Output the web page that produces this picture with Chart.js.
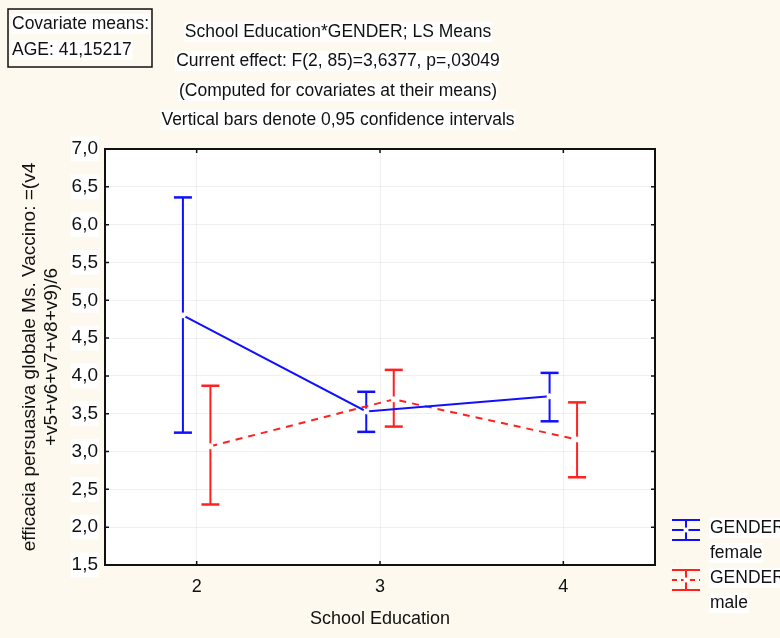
<!DOCTYPE html>
<html>
<head>
<meta charset="utf-8">
<script src="https://cdn.jsdelivr.net/npm/chart.js@4"></script>
<style>
  body { margin: 0; background: #fef9ee; }
  #wrap { width: 780px; height: 638px; }
</style>
</head>
<body>
<div id="wrap"><canvas id="myChart" width="780" height="638"></canvas></div>
<script>
// School Education levels
let categories = [2, 3, 4];

// LS means and 0,95 confidence limits
let femaleMean = [4.80, 3.53, 3.73];
let femaleLow = [3.25, 3.26, 3.40];
let femaleHigh = [6.36, 3.79, 4.04];

let maleMean = [3.07, 3.69, 3.16];
let maleLow = [2.30, 3.33, 2.66];
let maleHigh = [3.87, 4.08, 3.65];

let seriesNames = [['GENDER', 'female'], ['GENDER', 'male']];
let titleLines = ['School Education*GENDER; LS Means', 'Current effect: F(2, 85)=3,6377, p=,03049',
    '(Computed for covariates at their means)', 'Vertical bars denote 0,95 confidence intervals'];
let covariateLines = ['Covariate means:', 'AGE: 41,15217'];

let blue = '#1010ff';
let red = '#ff2020';
let font = '"Liberation Sans", Arial, sans-serif';

// small horizontal shift so the two genders don't overlap
let shift = 0.075;

function meanPoints(means, dx) {
    return categories.map((c, i) => ({ x: c + dx, y: means[i] }));
}

// whiskers: low, high, gap for every category
function barPoints(low, high, dx) {
    let pts = [];
    categories.forEach((c, i) => {
        pts.push({ x: c + dx, y: low[i] });
        pts.push({ x: c + dx, y: high[i] });
        pts.push({ x: c + dx, y: null });
    });
    return pts;
}

function textBg(ctx, text, x, y, align) {
    let w = ctx.measureText(text).width;
    let left = align === 'center' ? x - w / 2 : x;
    ctx.fillStyle = '#ffffff';
    ctx.fillRect(left - 1, y - 10, w + 2, 20);
    ctx.fillStyle = '#111';
    ctx.textAlign = align;
    ctx.fillText(text, x, y);
}

let decor = {
    id: 'decor',
    beforeDraw(chart) {
        let ctx = chart.ctx;
        let a = chart.chartArea;
        ctx.save();
        ctx.fillStyle = '#fef9ee';
        ctx.fillRect(0, 0, chart.width, chart.height);
        ctx.fillStyle = '#ffffff';
        ctx.fillRect(a.left, a.top, a.right - a.left, a.bottom - a.top);
        ctx.restore();
    },
    afterDatasetsDraw(chart) {
        let ctx = chart.ctx;
        let a = chart.chartArea;
        let xs = chart.scales.x;
        let ys = chart.scales.y;
        ctx.save();
        ctx.strokeStyle = '#111';
        ctx.lineWidth = 2;
        ctx.strokeRect(a.left, a.top, a.right - a.left, a.bottom - a.top);

        // inward tick marks
        ctx.lineWidth = 1.5;
        ctx.beginPath();
        ys.ticks.forEach(t => {
            let py = ys.getPixelForValue(t.value);
            ctx.moveTo(a.left, py); ctx.lineTo(a.left + 4, py);
            ctx.moveTo(a.right, py); ctx.lineTo(a.right - 4, py);
        });
        xs.ticks.forEach(t => {
            let px = xs.getPixelForValue(t.value);
            ctx.moveTo(px, a.top); ctx.lineTo(px, a.top + 4);
            ctx.moveTo(px, a.bottom); ctx.lineTo(px, a.bottom - 4);
        });
        ctx.stroke();

        // header
        ctx.font = '17.5px ' + font;
        ctx.textBaseline = 'middle';
        let ty = [32, 61, 91, 120];
        titleLines.forEach((t, i) => textBg(ctx, t, 338, ty[i], 'center'));

        ctx.strokeStyle = '#111';
        ctx.lineWidth = 1.5;
        ctx.strokeRect(8, 9, 144, 58);
        covariateLines.forEach((t, i) => textBg(ctx, t, 12, 24 + i * 26, 'left'));

        // legend
        let colors = [blue, red];
        let ly = [530, 580];
        colors.forEach((col, k) => {
            let y = ly[k];
            ctx.strokeStyle = col;
            ctx.lineWidth = 2;
            ctx.setLineDash([]);
            ctx.beginPath();
            ctx.moveTo(672, y - 10); ctx.lineTo(700, y - 10);
            ctx.moveTo(672, y + 10); ctx.lineTo(700, y + 10);
            ctx.moveTo(686, y - 10); ctx.lineTo(686, y + 10);
            ctx.stroke();
            ctx.setLineDash(k === 0 ? [] : [5, 4]);
            ctx.beginPath();
            ctx.moveTo(672, y); ctx.lineTo(700, y);
            ctx.stroke();
            ctx.setLineDash([]);
            ctx.fillStyle = '#fff';
            ctx.beginPath();
            ctx.arc(686, y, 2.5, 0, Math.PI * 2);
            ctx.fill();
            ctx.font = '17.5px ' + font;
            textBg(ctx, seriesNames[k][0], 710, y - 2, 'left');
            textBg(ctx, seriesNames[k][1], 710, y + 23, 'left');
        });
        ctx.restore();
    }
};

let ctx = document.getElementById('myChart').getContext('2d');

let myChart = new Chart(ctx, {
    type: 'line',
    data: {
        datasets: [{
            label: 'female CI',
            data: barPoints(femaleLow, femaleHigh, -shift),
            borderColor: blue,
            borderWidth: 2,
            spanGaps: false,
            pointStyle: 'line',
            pointRadius: 9,
            pointBorderWidth: 2.5,
            pointBorderColor: blue,
            order: 3
        }, {
            label: 'male CI',
            data: barPoints(maleLow, maleHigh, shift),
            borderColor: red,
            borderWidth: 2,
            spanGaps: false,
            pointStyle: 'line',
            pointRadius: 9,
            pointBorderWidth: 2.5,
            pointBorderColor: red,
            order: 3
        }, {
            label: 'female',
            data: meanPoints(femaleMean, -shift),
            borderColor: blue,
            borderWidth: 2,
            pointRadius: 2.5,
            pointBackgroundColor: '#fff',
            pointBorderColor: '#fff',
            pointBorderWidth: 1,
            order: 1
        }, {
            label: 'male',
            data: meanPoints(maleMean, shift),
            borderColor: red,
            borderWidth: 2,
            borderDash: [7, 6],
            pointRadius: 2.5,
            pointBackgroundColor: '#fff',
            pointBorderColor: '#fff',
            pointBorderWidth: 1,
            order: 2
        }]
    },
    options: {
        responsive: false,
        animation: false,
        layout: {
            padding: { top: 149, right: 125, left: 0, bottom: 0 }
        },
        plugins: {
            legend: { display: false },
            tooltip: { enabled: false }
        },
        scales: {
            x: {
                type: 'linear',
                min: 1.5,
                max: 4.5,
                afterBuildTicks: (scale) => {
                    scale.ticks = categories.map(v => ({ value: v }));
                },
                afterFit: (scale) => { scale.height = 73; },
                grid: { color: 'rgba(0,0,0,0.06)', drawTicks: false },
                border: { display: false },
                ticks: {
                    color: '#111',
                    padding: 11,
                    font: { family: font, size: 18 }
                },
                title: {
                    display: true,
                    text: 'School Education',
                    color: '#111',
                    font: { family: font, size: 18 },
                    padding: { top: 0, bottom: 8 }
                }
            },
            y: {
                min: 1.5,
                max: 7,
                afterFit: (scale) => { scale.width = 105; },
                grid: { color: 'rgba(0,0,0,0.06)', drawTicks: false },
                border: { display: false },
                ticks: {
                    stepSize: 0.5,
                    color: '#111',
                    padding: 7,
                    showLabelBackdrop: true,
                    backdropColor: '#ffffff',
                    backdropPadding: 1,
                    font: { family: font, size: 19 },
                    callback: (value) => value.toFixed(1).replace('.', ',')
                },
                title: {
                    display: true,
                    text: ['efficacia persuasiva globale Ms. Vaccino: =(v4', '+v5+v6+v7+v8+v9)/6'],
                    color: '#111',
                    font: { family: font, size: 19, lineHeight: '22px' },
                    padding: { top: 19, bottom: 0 }
                }
            }
        }
    },
    plugins: [decor]
});
</script>
</body>
</html>
